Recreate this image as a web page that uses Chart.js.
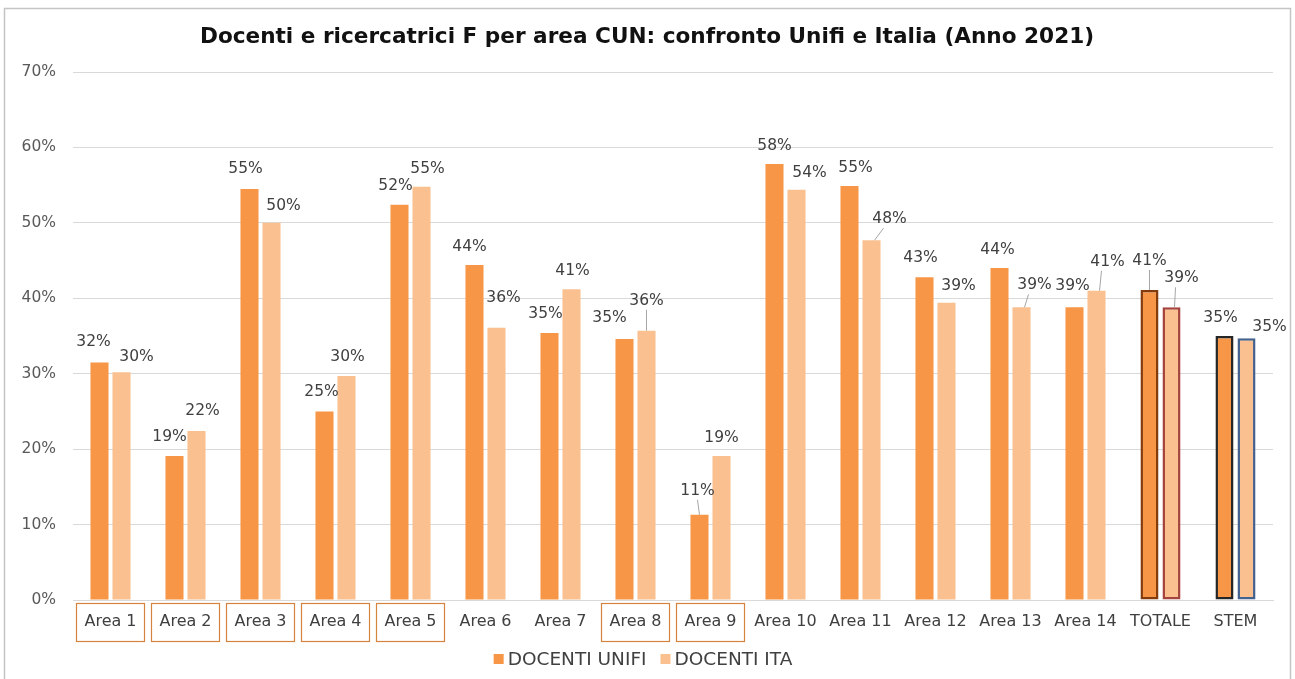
<!DOCTYPE html>
<html lang="it">
<head>
<meta charset="utf-8">
<title>Docenti e ricercatrici F per area CUN</title>
<script src="https://cdn.jsdelivr.net/npm/chart.js@4.4.1/dist/chart.umd.min.js"></script>
<style>
    html, body { margin: 0; padding: 0; background: #ffffff; }
    #chart { display: block; }
</style>
</head>
<body>
<canvas id="chart" width="1295" height="679"></canvas>
<script>
// Data (percent)
const categories = ['Area 1', 'Area 2', 'Area 3', 'Area 4', 'Area 5', 'Area 6', 'Area 7', 'Area 8',
    'Area 9', 'Area 10', 'Area 11', 'Area 12', 'Area 13', 'Area 14', 'TOTALE', 'STEM'];
const docentiUnifi = [31.5, 19.1, 54.5, 25.0, 52.4, 44.4, 35.4, 34.6, 11.3, 57.8, 54.9, 42.8, 44.0, 38.8, 41.1, 35.0];
const docentiIta = [30.2, 22.4, 50.0, 29.7, 54.8, 36.1, 41.2, 35.7, 19.1, 54.4, 47.7, 39.4, 38.8, 41.0, 38.8, 34.7];
const yTicks = [0, 10, 20, 30, 40, 50, 60, 70];
const boxedTicks = ['Area 1', 'Area 2', 'Area 3', 'Area 4', 'Area 5', 'Area 8', 'Area 9'];

const FONT = '"DejaVu Sans", Verdana, sans-serif';
const ORANGE = '#F79646';
const LIGHT = '#FAC090';

// Manual data label placement (pixel offsets from the top centre of each bar), like the Excel original
const labelStyle = [
    { dx: [-6, -5, -4, -3, -4, -5, -4, -15, -2, 0, 6, -4, -2, -2, 0, -4],
      dy: [-20, -19, -20, -19, -19, -18, -19, -21, -24, -18, -18, -19, -18, -21, -29, -18],
      leader: [8, 14] },
    { dx: [15, 6, 12, 1, 6, 7, 1, 0, 0, 13, 18, 12, 13, 11, 10, 23],
      dy: [-15, -20, -17, -19, -18, -30, -18, -30, -18, -17, -21, -17, -22, -29, -29, -11],
      leader: [7, 10, 12, 13, 14] }
];

const uniBorder = categories.map((c, i) => i === 14 ? '#843C0C' : (i === 15 ? '#262626' : ORANGE));
const itaBorder = categories.map((c, i) => i === 14 ? '#A5443E' : (i === 15 ? '#44628F' : LIGHT));
const borderWidths = categories.map((c, i) => i >= 14 ? 2.5 : 0);

const framePlugin = {
    id: 'frame',
    beforeDraw(chart) {
        const ctx = chart.ctx;
        ctx.save();
        ctx.fillStyle = '#ffffff';
        ctx.fillRect(0, 0, chart.width, chart.height);
        ctx.strokeStyle = '#c4c4c4';
        ctx.lineWidth = 1.5;
        ctx.strokeRect(4.5, 8.5, chart.width - 9, chart.height + 10);
        ctx.restore();
    }
};

const decorPlugin = {
    id: 'decor',
    afterDraw(chart) {
        const ctx = chart.ctx;
        const xs = chart.scales.x;
        const area = chart.chartArea;
        ctx.save();

        // title
        ctx.fillStyle = '#111111';
        ctx.font = 'bold 21.6px ' + FONT;
        ctx.textAlign = 'center';
        ctx.textBaseline = 'middle';
        ctx.fillText('Docenti e ricercatrici F per area CUN: confronto Unifi e Italia (Anno 2021)', 647, 37);

        // boxes around some category labels
        ctx.strokeStyle = '#D5843F';
        ctx.lineWidth = 1.2;
        categories.forEach((c, i) => {
            if (boxedTicks.indexOf(c) < 0) return;
            const x = xs.getPixelForValue(i);
            ctx.strokeRect(Math.round(x - 35) + 0.5, area.bottom + 3.5, 68, 38);
        });

        // legend, centred under the plot
        const items = [['DOCENTI UNIFI', ORANGE], ['DOCENTI ITA', LIGHT]];
        ctx.font = '18.5px ' + FONT;
        ctx.textAlign = 'left';
        const widths = items.map(it => ctx.measureText(it[0]).width);
        const total = widths.reduce((a, w) => a + 14 + w, 0) + 14;
        let x = 643 - total / 2;
        items.forEach(([text, color], k) => {
            ctx.fillStyle = color;
            ctx.fillRect(x, 654, 10, 10);
            ctx.fillStyle = '#404040';
            ctx.fillText(text, x + 14, 660);
            x += 14 + widths[k] + 14;
        });

        // data labels with leader lines
        chart.data.datasets.forEach((ds, d) => {
            const meta = chart.getDatasetMeta(d);
            const st = labelStyle[d];
            meta.data.forEach((bar, i) => {
                const lx = bar.x + st.dx[i];
                const ly = bar.y + st.dy[i];
                if (st.leader.indexOf(i) >= 0) {
                    // slanted when the label sits to one side of the bar
                    const side = Math.abs(st.dx[i]) < 4 ? 0 : Math.sign(st.dx[i]);
                    ctx.strokeStyle = '#a6a6a6';
                    ctx.lineWidth = 1;
                    ctx.beginPath();
                    ctx.moveTo(lx - side * 6, ly + 9);
                    ctx.lineTo(bar.x + side * 3, bar.y);
                    ctx.stroke();
                }
                ctx.fillStyle = '#404040';
                ctx.font = '15.5px ' + FONT;
                ctx.textAlign = 'center';
                ctx.textBaseline = 'middle';
                ctx.fillText(Math.round(ds.data[i]) + '%', lx, ly);
            });
        });
        ctx.restore();
    }
};

const chart = new Chart(document.getElementById('chart'), {
    type: 'bar',
    data: {
        labels: categories,
        datasets: [{
            label: 'DOCENTI UNIFI',
            data: docentiUnifi,
            backgroundColor: ORANGE,
            borderColor: uniBorder,
            borderWidth: borderWidths,
            borderSkipped: false,
            categoryPercentage: 0.587,
            barPercentage: 0.82
        }, {
            label: 'DOCENTI ITA',
            data: docentiIta,
            backgroundColor: LIGHT,
            borderColor: itaBorder,
            borderWidth: borderWidths,
            borderSkipped: false,
            categoryPercentage: 0.587,
            barPercentage: 0.82
        }]
    },
    options: {
        responsive: false,
        animation: false,
        devicePixelRatio: 1,
        layout: { padding: { left: 0, top: 72, right: 22, bottom: 38 } },
        plugins: {
            legend: { display: false },
            title: { display: false },
            tooltip: { enabled: false }
        },
        scales: {
            x: {
                grid: { display: false, drawTicks: false },
                border: { color: '#d9d9d9', width: 1 },
                ticks: { color: '#404040', font: { family: FONT, size: 16 }, padding: 12, maxRotation: 0, autoSkip: false },
                afterFit(scale) { scale.height = 41; }
            },
            y: {
                min: 0,
                max: 70,
                grid: { color: '#d9d9d9', drawTicks: false },
                border: { display: false },
                afterBuildTicks(scale) { scale.ticks = yTicks.map(v => ({ value: v })); },
                ticks: {
                    color: '#595959',
                    font: { family: FONT, size: 15.5 },
                    padding: 17,
                    callback: v => v + '%'
                },
                afterFit(scale) { scale.width = 73; }
            }
        }
    },
    plugins: [framePlugin, decorPlugin]
});
</script>
</body>
</html>
